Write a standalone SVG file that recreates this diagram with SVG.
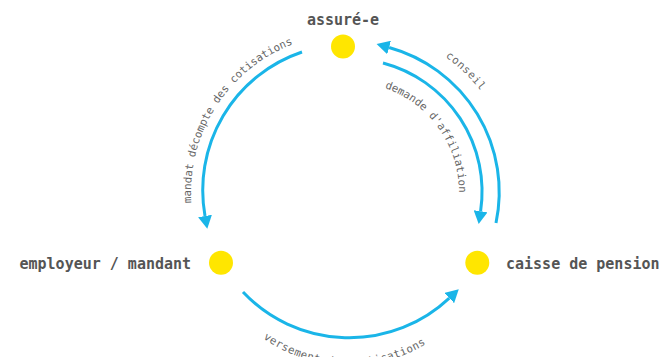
<svg xmlns="http://www.w3.org/2000/svg" width="662" height="357" viewBox="0 0 662 357">
<style>
.arc{fill:none;stroke:#1ab5e8;stroke-width:3;marker-end:url(#ah)}
.dot{fill:#ffe600}
.lbl{font-family:"DejaVu Sans Mono","Liberation Mono",monospace;font-weight:bold;font-size:15px;fill:#555}
.sm{font-family:"DejaVu Sans Mono","Liberation Mono",monospace;font-size:10.8px;fill:#666}
</style>
<defs>
<marker id="ah" markerUnits="userSpaceOnUse" markerWidth="14" markerHeight="14" refX="0" refY="7" orient="auto">
<path d="M0,0 L13,7 L0,14 z" fill="#1ab5e8"/>
</marker>
<path id="tL" d="M191.4,203 A158,158 0 0,1 327,35.5"/>
<path id="tD" d="M384.8,88 A110,110 0 0,1 457.3,211.1"/>
<path id="tC" d="M445.2,56.7 A166,166 0 0,1 509.3,149"/>
<path id="tB" d="M263.2,338.2 A148.5,148.5 0 0,0 462.8,312.5"/>
</defs>
<g id="connectors">
<path class="arc" d="M302,52 A146,146 0 0,0 205,216"/>
<path class="arc" d="M243,292 A146,146 0 0,0 449.3,298.1"/>
<path class="arc" d="M383,63 A133,133 0 0,1 480.6,211.2"/>
<path class="arc" d="M496,223 A150,150 0 0,0 389.1,47.5"/>
<text class="sm"><textPath href="#tL">mandat décompte des cotisations</textPath></text>
<text class="sm"><textPath href="#tD">demande d'affiliation</textPath></text>
<text class="sm" letter-spacing="0.6"><textPath href="#tC">conseil</textPath></text>
<text class="sm" letter-spacing="0.4"><textPath href="#tB">versement des cotisations</textPath></text>
</g>
<g id="assure">
<circle class="dot" cx="343" cy="46.5" r="12"/>
<text class="lbl" x="343" y="25" text-anchor="middle">assuré-e</text>
</g>
<g id="employeur">
<circle class="dot" cx="221" cy="262.7" r="12"/>
<text class="lbl" x="19.5" y="268.5">employeur / mandant</text>
</g>
<g id="caisse">
<circle class="dot" cx="477.3" cy="262.7" r="12"/>
<text class="lbl" x="506" y="268.5">caisse de pension</text>
</g>
</svg>
